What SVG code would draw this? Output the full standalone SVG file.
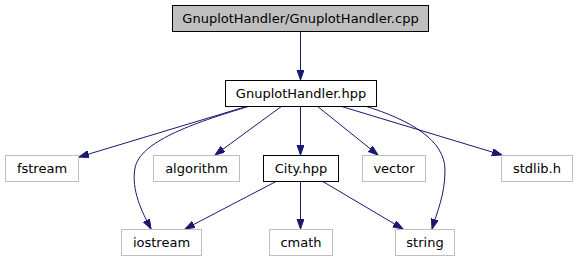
<svg xmlns="http://www.w3.org/2000/svg" width="577" height="261" viewBox="0 0 577 261">
  <style>
    .box { fill: #ffffff; stroke: #000000; stroke-width: 1; }
    .ext { fill: #ffffff; stroke: #bfbfbf; stroke-width: 1; }
    .root { fill: #bfbfbf; stroke: #000000; stroke-width: 1; }
    .lbl { font-family: "DejaVu Sans", Verdana, sans-serif; font-size: 13px; fill: #000000; text-anchor: middle; }
    .edge { fill: none; stroke: #191970; stroke-width: 1; marker-end: url(#arrow); }
  </style>
  <defs>
    <marker id="arrow" markerUnits="userSpaceOnUse" markerWidth="11" markerHeight="8" refX="10" refY="3.5" orient="auto">
      <path d="M0,0 L10,3.5 L0,7 z" fill="#191970" stroke="#191970" stroke-width="1"/>
    </marker>
  </defs>

  <rect width="577" height="261" fill="#ffffff"/>

  <g id="edges">
    <path class="edge" d="M300.5,32 L300.5,80"/>
    <path class="edge" d="M248,106 L79,157"/>
    <path class="edge" d="M250,106 C190,124 140,142 135,168 C131,190 142,212 151,229"/>
    <path class="edge" d="M282,106 L215,155"/>
    <path class="edge" d="M300.5,106 L300.5,155"/>
    <path class="edge" d="M317,106 L378,155"/>
    <path class="edge" d="M340,106 L502,155"/>
    <path class="edge" d="M365,106 C410,120 445,140 445,170 C445,195 437,212 432,229"/>
    <path class="edge" d="M277,181 L185,229"/>
    <path class="edge" d="M300.5,181 L300.5,229"/>
    <path class="edge" d="M322,181 L403,229"/>
  </g>

  <g id="node-cpp">
    <rect class="root" x="172.5" y="5.5" width="256" height="26"/>
    <text class="lbl" x="300.5" y="23">GnuplotHandler/GnuplotHandler.cpp</text>
  </g>
  <g id="node-hpp">
    <rect class="box" x="225.5" y="80.5" width="151" height="26"/>
    <text class="lbl" x="301" y="98">GnuplotHandler.hpp</text>
  </g>
  <g id="node-fstream">
    <rect class="ext" x="5.5" y="155.5" width="73" height="26"/>
    <text class="lbl" x="42" y="173">fstream</text>
  </g>
  <g id="node-algorithm">
    <rect class="ext" x="153.5" y="155.5" width="86" height="26"/>
    <text class="lbl" x="196.5" y="173">algorithm</text>
  </g>
  <g id="node-city">
    <rect class="box" x="263.5" y="155.5" width="75" height="26"/>
    <text class="lbl" x="301" y="173">City.hpp</text>
  </g>
  <g id="node-vector">
    <rect class="ext" x="362.5" y="155.5" width="63" height="26"/>
    <text class="lbl" x="394" y="173">vector</text>
  </g>
  <g id="node-stdlib">
    <rect class="ext" x="501.5" y="155.5" width="71" height="26"/>
    <text class="lbl" x="537" y="173">stdlib.h</text>
  </g>
  <g id="node-iostream">
    <rect class="ext" x="121.5" y="229.5" width="80" height="26"/>
    <text class="lbl" x="161.5" y="247">iostream</text>
  </g>
  <g id="node-cmath">
    <rect class="ext" x="269.5" y="229.5" width="63" height="26"/>
    <text class="lbl" x="301" y="247">cmath</text>
  </g>
  <g id="node-string">
    <rect class="ext" x="395.5" y="229.5" width="59" height="26"/>
    <text class="lbl" x="425" y="247">string</text>
  </g>
</svg>
